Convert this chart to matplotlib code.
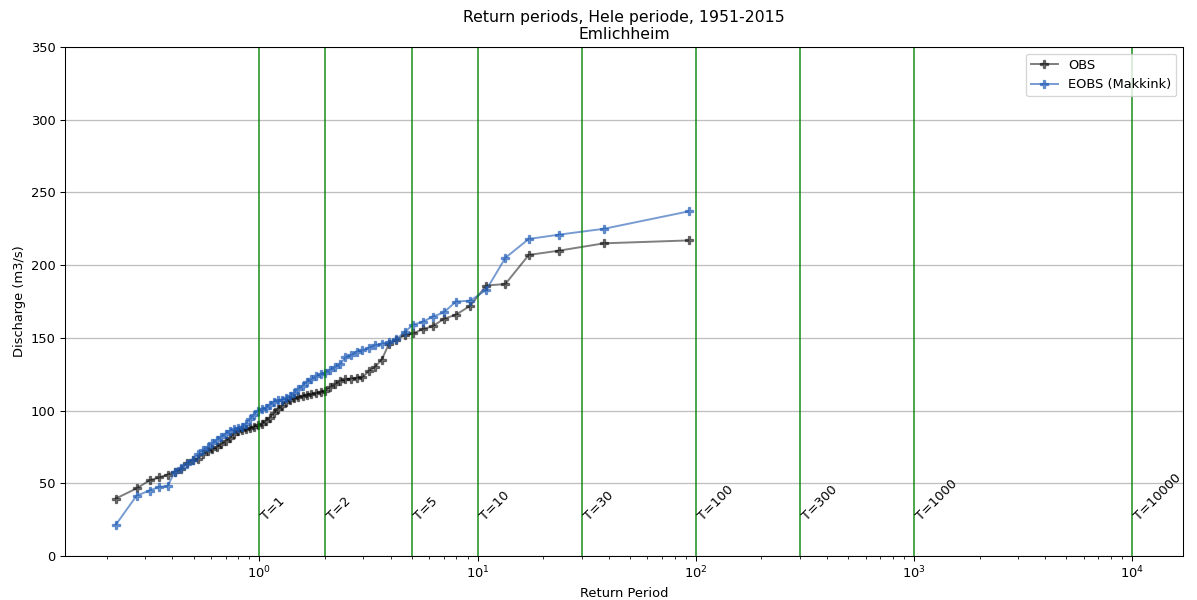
import matplotlib
matplotlib.use("Agg")
import matplotlib.pyplot as plt

# return periods (years) per rank, largest event first
return_period = [92.96, 37.97, 23.72, 17.17, 13.41, 10.97, 9.25, 7.98, 7.00, 6.23,
                 5.60, 5.07, 4.63, 4.25, 3.93, 3.64, 3.39, 3.17, 2.97, 2.79,
                 2.63, 2.48, 2.35, 2.22, 2.11, 2.00, 1.91, 1.82, 1.73, 1.65,
                 1.58, 1.51, 1.443, 1.381, 1.322, 1.267, 1.214, 1.164, 1.116, 1.071,
                 1.027, 0.985, 0.945, 0.906, 0.869, 0.833, 0.799, 0.765, 0.733, 0.701,
                 0.670, 0.640, 0.610, 0.581, 0.552, 0.524, 0.496, 0.467, 0.439, 0.410,
                 0.380, 0.348, 0.314, 0.274, 0.220]

obs = [217, 215, 210, 207, 187, 186, 172, 166, 163, 158,
       156, 153, 152, 148.5, 146, 135, 130, 127, 123, 122.5,
       122, 121.5, 120.5, 118, 116, 113.5, 113, 112, 111.5, 111,
       110, 109.5, 108.5, 107.5, 106, 103, 101, 98, 95, 93,
       91, 90, 89, 88, 87, 86.5, 86, 84, 81, 79,
       77, 75, 73.5, 72, 70, 67, 66, 64, 60, 58,
       56, 54, 52, 46.5, 39.5]

eobs = [237, 225, 221, 218, 205, 183, 175.5, 175, 167.5, 164.5,
        161, 159, 154, 149, 147, 146, 145, 143, 141.5, 140.5,
        138, 136.5, 132, 130, 128, 126, 125, 123.5, 121.5, 119.5,
        117, 115, 112, 110, 108.5, 107.5, 107, 106, 104, 102,
        101, 100, 97, 94, 91, 89, 88, 87, 86, 84,
        82, 80, 77.5, 75, 73, 70, 66, 63.5, 60.5, 58,
        48, 47.5, 45, 41.5, 21.5]

T_lines = [1, 2, 5, 10, 30, 100, 300, 1000, 10000]

dpi = 94
fig, ax = plt.subplots(figsize=(1197 / dpi, 600 / dpi), dpi=dpi)
fig.subplots_adjust(left=0.0543, right=0.9883, bottom=0.0733, top=0.9217)

ax.plot(return_period, obs, marker="P", color="black", alpha=0.5, label="OBS")
ax.plot(return_period, eobs, marker="P", color="#1f5bb5", alpha=0.6, label="EOBS (Makkink)")

for T in T_lines:
    ax.axvline(T, color="g", alpha=0.7, lw=1.5)
    ax.text(T, 25, "T=%d" % T, rotation=45)

ax.set_xscale("log")
ax.set_ylim(0, 350)
ax.yaxis.grid(True, color="0.75", lw=1)
ax.set_axisbelow(True)
ax.set_xlabel("Return Period")
ax.set_ylabel("Discharge (m3/s)")
ax.set_title("Return periods, Hele periode, 1951-2015\nEmlichheim")
ax.legend(loc="upper right")

plt.savefig("out.png", dpi=dpi)
